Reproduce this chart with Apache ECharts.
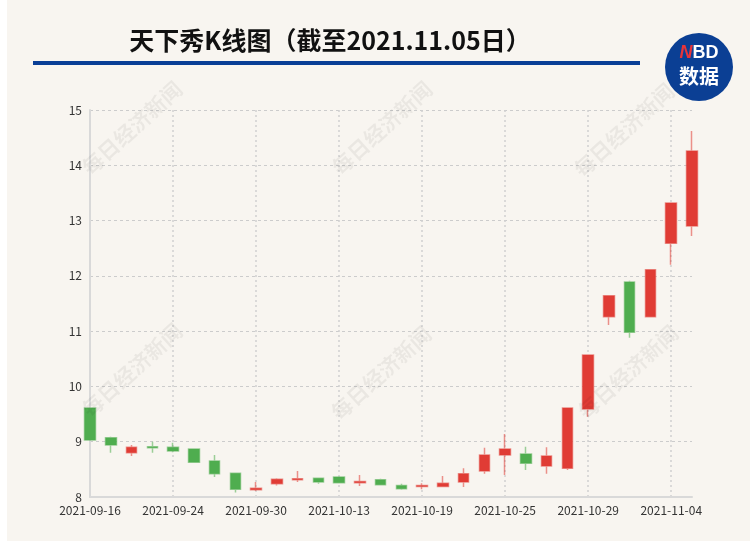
<!DOCTYPE html>
<html>
<head>
<meta charset="utf-8">
<script src="https://cdn.jsdelivr.net/npm/echarts@6/dist/echarts.min.js"></script>
<style>
html,body{margin:0;padding:0;background:#ffffff;}
#wrap{position:absolute;left:7px;top:0;width:743px;height:541px;background:#F8F5F0;}
#main{position:absolute;left:0;top:0;width:750px;height:550px;}
</style>
</head>
<body>
<div id="wrap"></div>
<div id="main"></div>
<script>
// Trading dates
var dates = ['2021-09-16','2021-09-17','2021-09-22','2021-09-23','2021-09-24',
  '2021-09-27','2021-09-28','2021-09-29','2021-09-30','2021-10-08',
  '2021-10-11','2021-10-12','2021-10-13','2021-10-14','2021-10-15',
  '2021-10-18','2021-10-19','2021-10-20','2021-10-21','2021-10-22',
  '2021-10-25','2021-10-26','2021-10-27','2021-10-28','2021-10-29',
  '2021-11-01','2021-11-02','2021-11-03','2021-11-04','2021-11-05'];
var openPrices  = [9.61,9.07,8.80,8.91,8.90,8.87,8.65,8.43,8.13,8.24,8.31,8.34,8.36,8.26,8.31,8.21,8.19,8.19,8.27,8.47,8.76,8.78,8.56,8.52,9.59,11.26,11.89,11.26,12.59,12.90];
var closePrices = [9.03,8.94,8.90,8.89,8.83,8.63,8.42,8.14,8.16,8.32,8.33,8.27,8.26,8.28,8.22,8.15,8.21,8.25,8.42,8.76,8.87,8.61,8.74,9.61,10.57,11.64,10.98,12.11,13.32,14.26];
var lowPrices   = [9.03,8.80,8.74,8.80,8.81,8.63,8.36,8.08,8.11,8.21,8.27,8.24,8.25,8.20,8.21,8.13,8.14,8.18,8.18,8.42,8.40,8.49,8.42,8.49,9.45,11.11,10.88,11.26,12.20,12.72];
var highPrices  = [9.61,9.09,8.94,9.00,8.98,8.88,8.76,8.44,8.27,8.34,8.47,8.34,8.37,8.40,8.33,8.24,8.25,8.38,8.52,8.89,9.14,8.91,8.90,9.61,10.57,11.64,11.91,12.12,13.33,14.62];
var yTicks = [8,9,10,11,12,13,14,15];

var kData = dates.map(function(d,i){ return [openPrices[i], closePrices[i], lowPrices[i], highPrices[i]]; });

var FONT = '"Noto Sans CJK SC","Noto Sans",sans-serif';
var wmCenters = [[132,128],[382,128],[624,130],[132,370],[381,373],[628,372]];
var graphics = wmCenters.map(function(c){
  return {type:'text', x:c[0], y:c[1], rotation:0.74, z:100, silent:true,
    style:{text:'每日经济新闻', fill:'rgba(0,0,0,0.055)', font:'bold 21px "Noto Sans CJK SC"', textAlign:'center', textVerticalAlign:'middle'}};
});
graphics.push({type:'text', x:330, y:40, z:10,
  style:{text:'天下秀K线图（截至2021.11.05日）', fill:'#111', font:'bold 25px "Noto Sans CJK SC"', textAlign:'center', textVerticalAlign:'middle'}});
graphics.push({type:'rect', shape:{x:33,y:61,width:607,height:4}, style:{fill:'#0A3F96'}, z:10});
graphics.push({type:'circle', shape:{cx:699,cy:67,r:34}, style:{fill:'#0B3F94'}, z:10});
graphics.push({type:'text', x:699, y:53, z:11,
  style:{rich:{n:{fill:'#E8343A',font:'italic bold 18px "Liberation Sans"'},b:{fill:'#fff',font:'bold 18px "Liberation Sans"'}},
    text:'{n|N}{b|BD}', textAlign:'center', textVerticalAlign:'middle'}});
graphics.push({type:'text', x:699, y:76, z:11,
  style:{text:'数据', fill:'#fff', font:'bold 20px "Noto Sans CJK SC"', textAlign:'center', textVerticalAlign:'middle'}});

var chart = echarts.init(document.getElementById('main'), null, {renderer:'canvas'});
chart.setOption({
  backgroundColor:'transparent',
  animation:false,
  grid:{left:90, right:58, top:110, bottom:53},
  graphic:graphics,
  xAxis:{
    type:'category', data:dates, boundaryGap:false,
    axisLine:{lineStyle:{color:'#d9d9d9', width:2}},
    axisTick:{show:false},
    axisLabel:{interval:3, color:'#333', fontSize:12, fontFamily:FONT, margin:7},
    splitLine:{show:true, interval:3, lineStyle:{color:'#cfcfcf', type:[2,3], width:1.5}}
  },
  yAxis:{
    type:'value', min:yTicks[0], max:yTicks[yTicks.length-1], interval:1, scale:true,
    axisLine:{show:true, lineStyle:{color:'#d9d9d9', width:2}},
    axisTick:{show:false},
    axisLabel:{color:'#333', fontSize:12, fontFamily:FONT, margin:8},
    splitLine:{show:true, lineStyle:{color:'#cccccc', type:[3,3], width:1}}
  },
  series:[{
    type:'candlestick', data:kData, barWidth:11,
    itemStyle:{color:'#E03C35', color0:'#4FAD4F', borderColor:'rgba(224,60,53,0.55)', borderColor0:'rgba(79,173,79,0.55)', borderWidth:1.5}
  }]
});
</script>
</body>
</html>
